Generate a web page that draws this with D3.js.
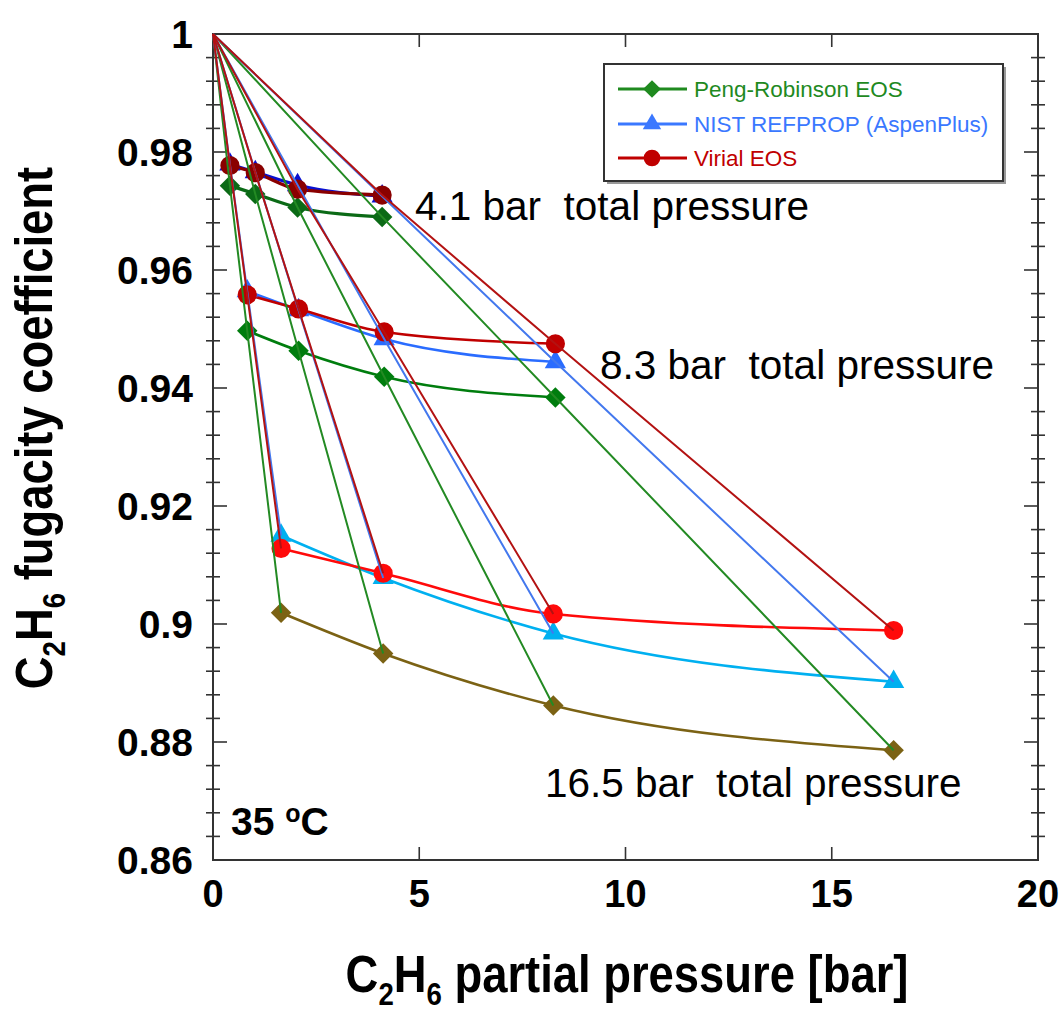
<!DOCTYPE html>
<html>
<head>
<meta charset="utf-8">
<script src="https://cdn.jsdelivr.net/npm/d3@7"></script>
<style>
  html, body { margin: 0; padding: 0; background: #fff; }
  svg { display: block; font-family: "Liberation Sans", Arial, sans-serif; }
</style>
</head>
<body>
<svg id="chart" width="1063" height="1019"></svg>
<script>
// C2H6 partial pressures [bar] at each total pressure (mole fractions 0.1, 0.25, 0.5, 1)
const partial41  = [0.41, 1.025, 2.05, 4.1];
const partial83  = [0.83, 2.075, 4.15, 8.3];
const partial165 = [1.65, 4.125, 8.25, 16.5];

// Fugacity coefficients, Peng-Robinson EOS
const pengRobinson41  = [0.9743, 0.9729, 0.9706, 0.9690];
const pengRobinson83  = [0.9497, 0.9463, 0.9419, 0.9384];
const pengRobinson165 = [0.9019, 0.8950, 0.8862, 0.8786];

// Fugacity coefficients, NIST REFPROP (AspenPlus)
const nist41  = [0.9779, 0.9766, 0.9744, 0.9725];
const nist83  = [0.9564, 0.9532, 0.9483, 0.9444];
const nist165 = [0.9150, 0.9078, 0.8984, 0.8902];

// Fugacity coefficients, Virial EOS
const virial41  = [0.9777, 0.9765, 0.9737, 0.9727];
const virial83  = [0.9558, 0.9534, 0.9495, 0.9475];
const virial165 = [0.9128, 0.9086, 0.9017, 0.8989];

const xTickValues = [0, 5, 10, 15, 20];
const xTickLabels = ["0", "5", "10", "15", "20"];
const yTickValues = [0.86, 0.88, 0.90, 0.92, 0.94, 0.96, 0.98, 1.0];
const yTickLabels = ["0.86", "0.88", "0.9", "0.92", "0.94", "0.96", "0.98", "1"];

const legendLabels = ["Peng-Robinson EOS", "NIST REFPROP (AspenPlus)", "Virial EOS"];
const pressureLabels = ["4.1 bar\u00a0 total pressure", "8.3 bar\u00a0 total pressure", "16.5 bar\u00a0 total pressure"];

const svg = d3.select("#chart");
const plotLeft = 213, plotRight = 1038, plotTop = 34, plotBottom = 860;

const x = d3.scaleLinear().domain([0, 20]).range([plotLeft, plotRight]);
const y = d3.scaleLinear().domain([0.86, 1.0]).range([plotBottom, plotTop]);

// model definitions: marker shape, isobar colours (4.1 / 8.3 / 16.5 bar), fan-line colour
const models = [
  { name: legendLabels[0], symbol: "diamond",
    series: [pengRobinson41, pengRobinson83, pengRobinson165],
    colors: ["#0b6a16", "#007d0e", "#7b6214"], fan: "#238a23", legend: "#1f8a1f" },
  { name: legendLabels[1], symbol: "triangle",
    series: [nist41, nist83, nist165],
    colors: ["#0a10d0", "#2a6cff", "#00b0f0"], fan: "#4378ee", legend: "#3a78ff" },
  { name: legendLabels[2], symbol: "circle",
    series: [virial41, virial83, virial165],
    colors: ["#8a0000", "#c00000", "#ff0a0a"], fan: "#b31212", legend: "#c00000" }
];
const partials = [partial41, partial83, partial165];

function symbolPath(kind, scale) {
  if (kind === "diamond") return d3.symbol().type(d3.symbolSquare).size(210 * scale)();
  if (kind === "triangle") return d3.symbol().type(d3.symbolTriangle).size(195 * scale)();
  return d3.symbol().type(d3.symbolCircle).size(290 * scale)();
}
function symbolTransform(kind, px, py) {
  return kind === "diamond" ? `translate(${px},${py}) rotate(45)` : `translate(${px},${py})`;
}

// ---- frame and ticks ----
const axes = svg.append("g").attr("stroke", "#333").attr("stroke-width", 1.6);
axes.append("rect").attr("x", plotLeft).attr("y", plotTop)
  .attr("width", plotRight - plotLeft).attr("height", plotBottom - plotTop)
  .attr("fill", "none").attr("stroke-width", 2);

const yMinor = d3.range(0, 36).map(i => 0.86 + i * 0.004)
  .filter(v => Math.abs((v - 0.86) / 0.02 - Math.round((v - 0.86) / 0.02)) > 1e-6);
// minor ticks cross the axis lines
axes.append("g").selectAll("line").data(yMinor).join("line")
  .attr("x1", plotLeft - 7).attr("x2", plotLeft + 7).attr("y1", d => y(d)).attr("y2", d => y(d));
axes.append("g").selectAll("line").data(yMinor).join("line")
  .attr("x1", plotRight - 7).attr("x2", plotRight + 7).attr("y1", d => y(d)).attr("y2", d => y(d));
// major ticks point inward
axes.append("g").selectAll("line").data(yTickValues.slice(1, -1)).join("line")
  .attr("x1", plotLeft).attr("x2", plotLeft + 14).attr("y1", d => y(d)).attr("y2", d => y(d));
axes.append("g").selectAll("line").data(yTickValues.slice(1, -1)).join("line")
  .attr("x1", plotRight - 14).attr("x2", plotRight).attr("y1", d => y(d)).attr("y2", d => y(d));
axes.append("g").selectAll("line").data(xTickValues.slice(1, -1)).join("line")
  .attr("x1", d => x(d)).attr("x2", d => x(d)).attr("y1", plotBottom).attr("y2", plotBottom - 13);
axes.append("g").selectAll("line").data(xTickValues.slice(1, -1)).join("line")
  .attr("x1", d => x(d)).attr("x2", d => x(d)).attr("y1", plotTop).attr("y2", plotTop + 13);

// tick labels
svg.append("g").selectAll("text").data(yTickValues).join("text")
  .attr("x", 193).attr("y", d => y(d) + 13.5)
  .attr("text-anchor", "end").attr("font-size", 39).attr("font-weight", "bold").attr("fill", "#000")
  .text((d, i) => yTickLabels[i]);
svg.append("g").selectAll("text").data(xTickValues).join("text")
  .attr("x", d => x(d)).attr("y", 907)
  .attr("text-anchor", "middle").attr("font-size", 38).attr("font-weight", "bold").attr("fill", "#000")
  .text((d, i) => xTickLabels[i]);

// ---- isobar curves and markers ----
const isoLine = d3.line().x(d => x(d[0])).y(d => y(d[1])).curve(d3.curveMonotoneX);
const plot = svg.append("g");
models.forEach(m => {
  m.series.forEach((vals, k) => {
    const pts = partials[k].map((p, i) => [p, vals[i]]);
    plot.append("path").attr("d", isoLine(pts)).attr("fill", "none")
      .attr("stroke", m.colors[k]).attr("stroke-width", k === 0 ? 3.2 : 2.6);
  });
});
models.forEach(m => {
  m.series.forEach((vals, k) => {
    const pts = partials[k].map((p, i) => [p, vals[i]]);
    plot.append("g").selectAll("path").data(pts).join("path")
      .attr("d", symbolPath(m.symbol, 1))
      .attr("transform", d => symbolTransform(m.symbol, x(d[0]), y(d[1])))
      .attr("fill", m.colors[k]);
  });
});

// ---- constant-composition lines from the pure-gas limit (0, 1) ----
const fanLine = d3.line().x(d => x(d[0])).y(d => y(d[1]));
models.forEach(m => {
  partial41.forEach((_, i) => {
    const pts = [[0, 1]].concat(partials.map((pp, k) => [pp[i], m.series[k][i]]));
    plot.append("path").attr("d", fanLine(pts)).attr("fill", "none")
      .attr("stroke", m.fan).attr("stroke-width", 2);
  });
});

// ---- annotations ----
const ann = svg.append("g").attr("font-size", 40.5).attr("fill", "#000").style("white-space", "pre");
ann.append("text").attr("x", 415).attr("y", 220).text(pressureLabels[0]);
ann.append("text").attr("x", 600).attr("y", 379).text(pressureLabels[1]);
ann.append("text").attr("x", 545).attr("y", 797).text(pressureLabels[2]);

const temp = svg.append("text").attr("x", 231).attr("y", 835).attr("font-size", 39).attr("font-weight", "bold");
temp.append("tspan").text("35 ");
temp.append("tspan").attr("font-size", 25).attr("dy", -13).text("o");
temp.append("tspan").attr("dy", 13).text("C");

// ---- axis titles (bold, slightly condensed) ----
function addTitle(transform, rest) {
  const t = svg.append("text").attr("transform", transform).attr("text-anchor", "middle")
    .attr("font-size", 51).attr("font-weight", "bold").attr("fill", "#000");
  t.append("tspan").text("C");
  t.append("tspan").attr("font-size", 31).attr("dy", 13).text("2");
  t.append("tspan").attr("dy", -13).text("H");
  t.append("tspan").attr("font-size", 31).attr("dy", 13).text("6");
  t.append("tspan").attr("dy", -13).text(rest);
}
addTitle("translate(627,992) scale(0.89,1)", " partial pressure [bar]");
addTitle("translate(52,428) rotate(-90) scale(0.89,1)", " fugacity coefficient");

// ---- legend ----
const lg = svg.append("g");
lg.append("rect").attr("x", 607).attr("y", 67).attr("width", 399).attr("height", 117).attr("fill", "#999");
lg.append("rect").attr("x", 604).attr("y", 64).attr("width", 399).attr("height", 117)
  .attr("fill", "#fff").attr("stroke", "#333").attr("stroke-width", 2);
const rowsY = [89, 124, 158];
models.forEach((m, i) => {
  const ry = rowsY[i];
  lg.append("line").attr("x1", 618).attr("x2", 687).attr("y1", ry).attr("y2", ry)
    .attr("stroke", m.legend).attr("stroke-width", 3);
  lg.append("path").attr("d", symbolPath(m.symbol, 0.75))
    .attr("transform", symbolTransform(m.symbol, 652, ry)).attr("fill", m.legend);
  lg.append("text").attr("x", 694).attr("y", ry + 8).attr("font-size", 22.5)
    .attr("fill", m.legend).text(m.name);
});
</script>
</body>
</html>
